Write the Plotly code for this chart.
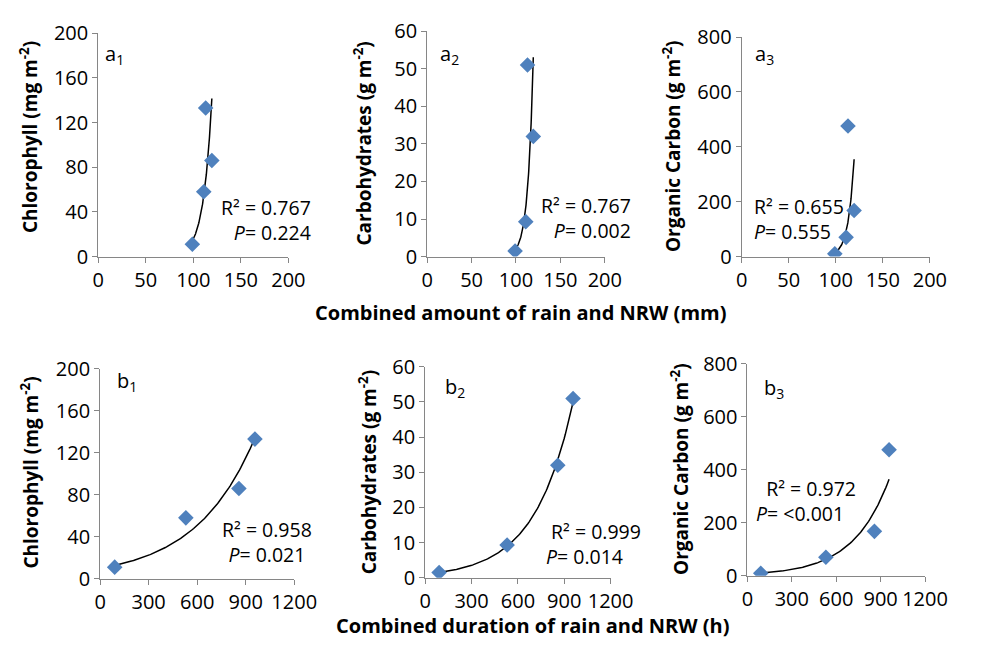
import numpy as np
import plotly.graph_objects as go

# ---- data ----
rain_nrw_mm = [99, 111, 119.5, 113]
duration_h = [90, 530, 858, 957]
chlorophyll = [11, 58, 86, 133]
carbohydrates = [1.5, 9.3, 32, 51]
organic_carbon = [10, 70, 168, 476]

y_titles = ["Chlorophyll (mg m<sup>-2</sup>)", "Carbohydrates (g m<sup>-2</sup>)", "Organic Carbon (g m<sup>-2</sup>)"]
panel_labels_a = ["a<sub>1</sub>", "a<sub>2</sub>", "a<sub>3</sub>"]
panel_labels_b = ["b<sub>1</sub>", "b<sub>2</sub>", "b<sub>3</sub>"]
r2_a = ["0.767", "0.767", "0.655"]
p_a = ["0.224", "0.002", "0.555"]
r2_b = ["0.958", "0.999", "0.972"]
p_b = ["0.021", "0.014", "<0.001"]
y_ranges = [(0, 200, 40), (0, 60, 10), (0, 800, 200)]
x_ranges = [(0, 200, 50), (0, 1200, 300)]

W, H = 982, 655
FONT = "Open Sans"
BLUE = "#4F81BD"
AXIS = "#868686"
TICK_SIZE = 20

# plot areas in pixels (x0, x1, y0_top, y1_bottom)
boxes = [
    (95, 291, 20, 253), (434, 617, 18, 253), (758, 952, 24, 253),
    (97, 297, 370, 589), (432, 623, 368, 588), (764, 947, 365, 586),
]

fig = go.Figure()
ys = [chlorophyll, carbohydrates, organic_carbon]

def px(x):
    return x / W

def py(y):
    return 1 - y / H

for i in range(6):
    row = i // 3
    col = i % 3
    xdata = rain_nrw_mm if row == 0 else duration_h
    ydata = ys[col]
    ax = "" if i == 0 else str(i + 1)
    x0, x1, yt, yb = boxes[i]
    xr = x_ranges[row]
    yr = y_ranges[col]
    fig.update_layout(**{
        f"xaxis{ax}": dict(domain=[px(x0), px(x1)], anchor=f"y{ax}", range=[xr[0], xr[1]], dtick=xr[2],
                           showline=True, linecolor=AXIS, linewidth=1, ticks="outside", tickcolor=AXIS,
                           ticklen=5, showgrid=False, zeroline=False,
                           tickfont=dict(family=FONT, size=TICK_SIZE, color="black")),
        f"yaxis{ax}": dict(domain=[py(yb), py(yt)], anchor=f"x{ax}", range=[yr[0], yr[1]], dtick=yr[2],
                           showline=True, linecolor=AXIS, linewidth=1, ticks="outside", tickcolor=AXIS,
                           ticklen=5, showgrid=False, zeroline=False,
                           tickfont=dict(family=FONT, size=TICK_SIZE, color="black")),
    })
    # exponential trendline fitted from the data
    xa = np.array(xdata, dtype=float)
    ya = np.array(ydata, dtype=float)
    b, a = np.polyfit(xa, np.log(ya), 1)
    xs = np.linspace(xa.min(), xa.max(), 120)
    fig.add_trace(go.Scatter(x=xs, y=np.exp(a + b * xs), mode="lines",
                             line=dict(color="black", width=1.5),
                             xaxis=f"x{ax}", yaxis=f"y{ax}", showlegend=False, hoverinfo="skip"))
    fig.add_trace(go.Scatter(x=xdata, y=ydata, mode="markers",
                             marker=dict(symbol="diamond", size=12, color=BLUE),
                             xaxis=f"x{ax}", yaxis=f"y{ax}", showlegend=False))

annots = []
def txt(x, y, text, xanchor="center", size=20, angle=0, bold=False, align="center"):
    annots.append(dict(x=px(x), y=py(y), xref="paper", yref="paper", text=text, showarrow=False,
                       xanchor=xanchor, yanchor="middle", textangle=angle, borderpad=0, align=align,
                       font=dict(family=FONT, size=size, color="black", weight="bold" if bold else "normal")))

# panel labels
for (x, y), lab in zip([(112, 42), (457, 42), (782, 42)], panel_labels_a):
    txt(x, y, lab, size=20)
for (x, y), lab in zip([(125, 383), (463, 390), (791, 391)], panel_labels_b):
    txt(x, y, lab, size=20)

# statistics (two lines each)
NB = "\u00a0"
S = 19.5
txt(315, 215, "R² = " + r2_a[0] + "<br><i>P</i>= " + p_a[0], xanchor="right", align="right", size=S)
txt(645, 212.5, "R² = " + r2_a[1] + "<br><i>P</i>= " + p_a[1], xanchor="right", align="right", size=S)
txt(770, 213.5, "R² = " + r2_a[2] + "<br><i>P</i>= " + p_a[2], xanchor="left", align="left", size=S)
txt(269, 550.5, "R² = " + r2_b[0] + "<br><i>P</i>= " + p_b[0], size=S)
txt(555, 552.5, NB + "R² = " + r2_b[1] + "<br><i>P</i>= " + p_b[1], xanchor="left", align="left", size=S)
txt(772, 507.5, NB + NB + "R² = " + r2_b[2] + "<br><i>P</i>= " + p_b[2], xanchor="left", align="left", size=S)

# y-axis titles
for (x, y), t in zip([(23, 128), (368, 135), (687, 138)], y_titles):
    txt(x, y, t, size=19, angle=-90, bold=True)
for (x, y), t in zip([(25, 478), (373, 478), (695, 475)], y_titles):
    txt(x, y, t, size=19, angle=-90, bold=True)

# x-axis titles
txt(530, 311, "Combined amount of rain and NRW (mm)", size=20, bold=True)
txt(543, 638, "Combined duration of rain and NRW (h)", size=20, bold=True)

fig.update_layout(width=W, height=H, margin=dict(l=0, r=0, t=0, b=0),
                  plot_bgcolor="white", paper_bgcolor="white", annotations=annots,
                  showlegend=False)

fig.write_html("out.html")
